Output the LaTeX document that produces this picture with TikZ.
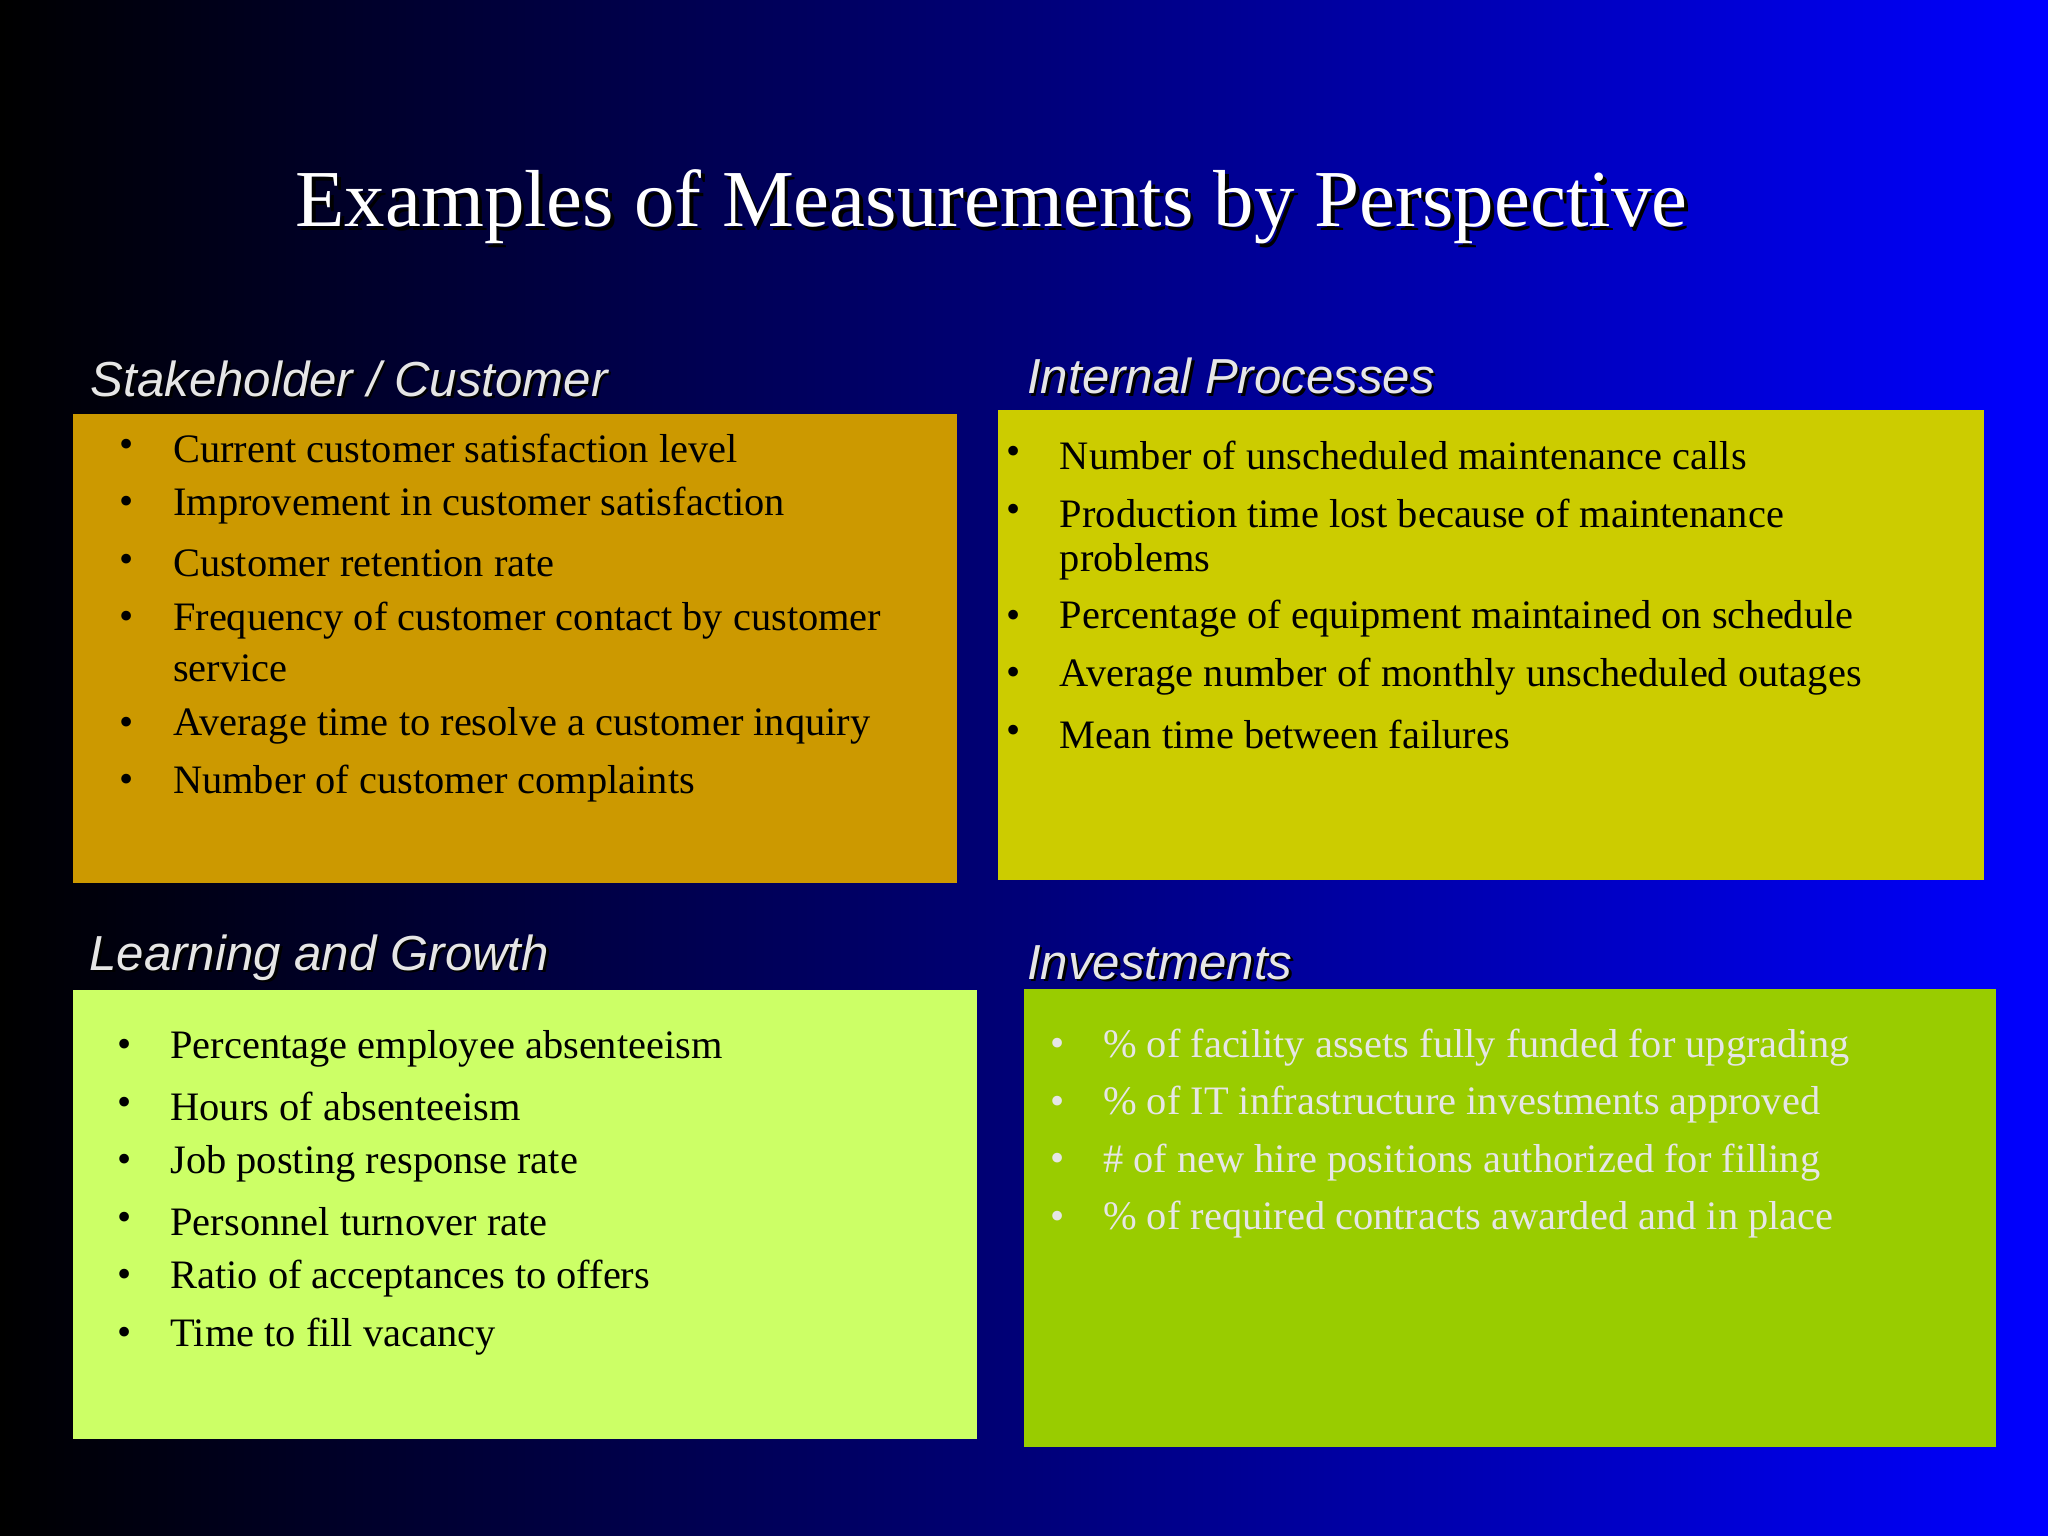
\documentclass[tikz,border=0pt]{standalone}
\usepackage{fontspec}
\setmainfont{Liberation Serif}
\newfontfamily\hfont{Liberation Sans}
\usetikzlibrary{shadings}
\definecolor{scbox}{HTML}{CC9900}
\definecolor{ipbox}{HTML}{CCCC00}
\definecolor{lgbox}{HTML}{CCFF66}
\definecolor{invbox}{HTML}{99CC00}
\definecolor{headc}{HTML}{E6E6E6}
\tikzset{
  bl/.style={anchor=west,inner sep=0pt,font=\fontsize{11.5}{14}\selectfont},
  bul/.style={anchor=center,inner sep=0pt,font=\fontsize{11.5}{14}\selectfont},
  head/.style={anchor=west,inner sep=0pt,font=\hfont\itshape\fontsize{14}{16}\selectfont,text=headc},
  headsh/.style={anchor=west,inner sep=0pt,font=\hfont\itshape\fontsize{14}{16}\selectfont,text=black},
}
\begin{document}
\begin{tikzpicture}[x=0.013061cm,y=-0.013061cm]
\useasboundingbox (0,0) rectangle (1568,1176);
\shade[left color=black,right color={rgb,255:red,0;green,0;blue,255},middle color={rgb,255:red,0;green,0;blue,120}] (0,0) rectangle (1568,1176);
% title
\node[inner sep=0pt,text=black] at (762,161) {\fontsize{23}{26}\selectfont Examples of Measurements by Perspective};
\node[inner sep=0pt,text=white] (title) at (759,158) {\fontsize{23}{26}\selectfont Examples of Measurements by Perspective};
% boxes
\fill[scbox] (56,317) rectangle (733,676);
\fill[ipbox] (764,314) rectangle (1519,674);
\fill[lgbox] (56,758) rectangle (748,1102);
\fill[invbox] (784,757) rectangle (1528,1108);
% headings
\newcommand\hd[4]{\node[headsh] at (#1+2,#2+2) {#3}; \node[head] (#4) at (#1,#2) {#3};}
\hd{69}{290}{Stakeholder / Customer}{h1}
\hd{786}{288}{Internal Processes}{h2}
\hd{68}{733}{Learning and Growth}{h3}
\hd{786}{737}{Investments}{h4}
% items
\newcommand\itm[5]{\node[bul,text=#5] at (#1,#3) {\textbullet}; \node[bl,text=#5] at (#2,#3) {#4};}
\itm{97}{132}{343}{Current customer satisfaction level}{black}
\itm{97}{132}{387}{Improvement in customer satisfaction}{black}
\itm{97}{132}{431}{Customer retention rate}{black}
\itm{97}{132}{475}{Frequency of customer contact by customer}{black}
\node[bl] at (132,512) {service};
\itm{97}{132}{556}{Average time to resolve a customer inquiry}{black}
\itm{97}{132}{600}{Number of customer complaints}{black}
\itm{776}{811}{349}{Number of unscheduled maintenance calls}{black}
\itm{776}{811}{393}{Production time lost because of maintenance}{black}
\node[bl] at (811,430) {problems};
\itm{776}{811}{474}{Percentage of equipment maintained on schedule}{black}
\itm{776}{811}{518}{Average number of monthly unscheduled outages}{black}
\itm{776}{811}{562}{Mean time between failures}{black}
\itm{95}{130}{803}{Percentage employee absenteeism}{black}
\itm{95}{130}{847}{Hours of absenteeism}{black}
\itm{95}{130}{891}{Job posting response rate}{black}
\itm{95}{130}{935}{Personnel turnover rate}{black}
\itm{95}{130}{979}{Ratio of acceptances to offers}{black}
\itm{95}{130}{1023}{Time to fill vacancy}{black}
\itm{810}{844}{802}{\% of facility assets fully funded for upgrading}{headc}
\itm{810}{844}{846}{\% of IT infrastructure investments approved}{headc}
\itm{810}{844}{890}{\# of new hire positions authorized for filling}{headc}
\itm{810}{844}{934}{\% of required contracts awarded and in place}{headc}
\end{tikzpicture}
\end{document}
